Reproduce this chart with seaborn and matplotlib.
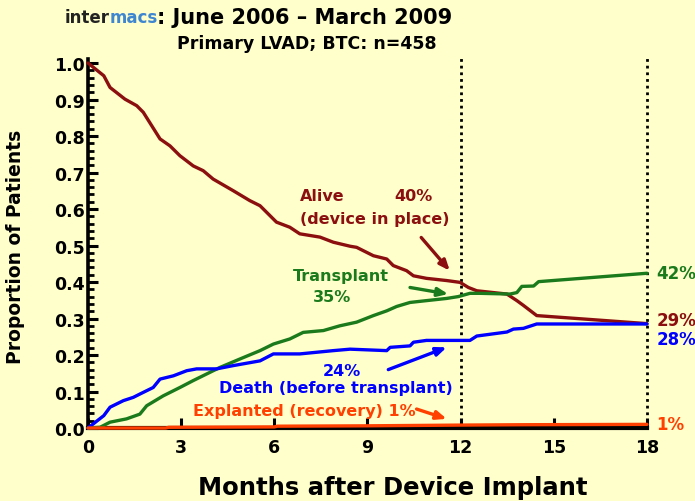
import pandas as pd
import matplotlib.pyplot as plt
import seaborn as sns
import numpy as np

# Competing outcomes after primary LVAD (BTC)
alive_t = [0, 0.51, 0.71, 1.19, 1.57, 1.78, 2.32, 2.64, 2.96, 3.39, 3.71, 4.03, 4.68, 5.21, 5.54,
           6.07, 6.5, 6.82, 7.47, 7.9, 8.44, 8.65, 9.19, 9.62, 9.83, 10.26, 10.48, 10.9, 11.55,
           11.98, 12.25, 12.52, 13.49, 13.81, 14.02, 14.45, 18]
alive_y = [1.0, 0.965, 0.933, 0.901, 0.883, 0.865, 0.792, 0.773, 0.746, 0.718, 0.705, 0.682, 0.650,
           0.623, 0.609, 0.564, 0.550, 0.532, 0.523, 0.509, 0.498, 0.495, 0.472, 0.463, 0.445,
           0.431, 0.417, 0.410, 0.404, 0.399, 0.385, 0.376, 0.367, 0.349, 0.336, 0.308, 0.286]

transplant_t = [0, 0.39, 0.71, 1.24, 1.67, 1.89, 2.42, 2.96, 3.39, 3.82, 4.25, 4.89, 5.54, 5.97,
                6.5, 6.93, 7.58, 8.11, 8.65, 9.19, 9.62, 9.94, 10.37, 10.9, 11.55, 11.92, 12.3,
                12.62, 13.59, 13.81, 13.97, 14.35, 14.51, 18]
transplant_y = [0, 0.002, 0.016, 0.025, 0.038, 0.061, 0.088, 0.111, 0.130, 0.148, 0.166, 0.189,
                0.212, 0.230, 0.244, 0.262, 0.267, 0.280, 0.290, 0.308, 0.321, 0.333, 0.344, 0.349,
                0.355, 0.360, 0.369, 0.369, 0.367, 0.371, 0.388, 0.389, 0.401, 0.424]

death_t = [0, 0.3, 0.51, 0.71, 1.14, 1.46, 1.67, 2.1, 2.32, 2.75, 3.18, 3.5, 4.14, 4.68, 5.54,
           5.97, 6.82, 7.9, 8.44, 9.62, 9.73, 10.37, 10.48, 10.9, 12.3, 12.52, 13.49, 13.7,
           14.02, 14.45, 18]
death_y = [0, 0.020, 0.034, 0.057, 0.075, 0.084, 0.093, 0.111, 0.134, 0.143, 0.157, 0.162, 0.162,
           0.171, 0.184, 0.203, 0.203, 0.212, 0.216, 0.212, 0.221, 0.225, 0.235, 0.240, 0.240,
           0.252, 0.263, 0.271, 0.273, 0.285, 0.285]

explant_t = [0, 2.5, 2.6, 6.0, 6.1, 9, 12, 14, 18]
explant_y = [0, 0, 0.002, 0.003, 0.005, 0.006, 0.008, 0.009, 0.010]

outcomes = ['Alive', 'Transplant', 'Death', 'Explanted']
end_labels = ['42%', '29%', '28%', '1%']
x_ticks = [0, 3, 6, 9, 12, 15, 18]
y_ticks = [0.0, 0.1, 0.2, 0.3, 0.4, 0.5, 0.6, 0.7, 0.8, 0.9, 1.0]

BG = '#FFFFCC'
colors = {'Alive': '#8B0F0F', 'Transplant': '#1B7A1B', 'Death': '#0000FF', 'Explanted': '#FF4000'}

df = pd.concat([
    pd.DataFrame({'month': alive_t, 'prop': alive_y, 'outcome': 'Alive'}),
    pd.DataFrame({'month': transplant_t, 'prop': transplant_y, 'outcome': 'Transplant'}),
    pd.DataFrame({'month': death_t, 'prop': death_y, 'outcome': 'Death'}),
    pd.DataFrame({'month': explant_t, 'prop': explant_y, 'outcome': 'Explanted'}),
], ignore_index=True)

sns.set_style('ticks')
plt.rcParams['font.family'] = ['DejaVu Sans']
plt.rcParams['font.weight'] = 'bold'
plt.rcParams['text.color'] = 'black'
plt.rcParams['axes.labelcolor'] = 'black'
plt.rcParams['xtick.color'] = 'black'
plt.rcParams['ytick.color'] = 'black'

fig = plt.figure(figsize=(6.95, 5.02), dpi=100, facecolor=BG)
ax = fig.add_axes([0.1266, 0.1454, 0.8043, 0.7271])
ax.set_facecolor(BG)

sns.lineplot(data=df, x='month', y='prop', hue='outcome', hue_order=outcomes,
             palette=colors, linewidth=2.4, legend=False, sort=False,
             estimator=None, ax=ax, clip_on=False, zorder=5)

# dotted reference lines at 12 and 18 months
ax.vlines([12, 18], 0, 1.02, colors='black', linestyles=(0, (1, 1.4)),
          linewidth=2, clip_on=False, zorder=3)

ax.set_xlim(0, 18)
ax.set_ylim(0, 1.0)
ax.set_xticks(x_ticks)
ax.set_yticks(y_ticks)
ax.set_yticklabels([f'{v:.1f}' for v in y_ticks])
ax.set_yticks(np.arange(0, 1.001, 0.02), minor=True)
ax.tick_params(axis='both', which='major', direction='in', width=2.2, length=7,
               labelsize=12.5, color='black', labelcolor='black')
ax.tick_params(axis='y', which='major', pad=2)
ax.tick_params(axis='x', which='major', pad=7)
ax.tick_params(axis='y', which='minor', direction='in', width=2, length=4, color='black')
for lab in ax.get_xticklabels() + ax.get_yticklabels():
    lab.set_fontweight('bold')

sns.despine(ax=ax)
ax.spines['left'].set_linewidth(2.6)
ax.spines['bottom'].set_linewidth(3)
ax.spines['left'].set_color('black')
ax.spines['bottom'].set_color('black')
ax.spines['left'].set_bounds(0, 1.01)
ax.spines['left'].set_zorder(2)
ax.spines['bottom'].set_zorder(2)

ax.set_xlabel('Months after Device Implant', fontsize=17.5, fontweight='bold')
ax.xaxis.set_label_coords(0.546, -0.13)
ax.set_ylabel('Proportion of Patients', fontsize=13.5, fontweight='bold', labelpad=21)

# in-plot labels
fs = 11.5
ax.text(6.83, 0.637, 'Alive', color=colors['Alive'], fontsize=fs, fontweight='bold', va='center')
ax.text(9.88, 0.637, '40%', color=colors['Alive'], fontsize=fs, fontweight='bold', va='center')
ax.text(6.83, 0.573, '(device in place)', color=colors['Alive'], fontsize=fs,
        fontweight='bold', va='center')
ax.text(8.13, 0.417, 'Transplant', color=colors['Transplant'], fontsize=fs,
        fontweight='bold', ha='center', va='center')
ax.text(7.86, 0.359, '35%', color=colors['Transplant'], fontsize=fs, fontweight='bold',
        ha='center', va='center')
ax.text(8.8, 0.157, '24%', color=colors['Death'], fontsize=fs, fontweight='bold',
        ha='right', va='center')
ax.text(7.97, 0.112, 'Death (before transplant)', color=colors['Death'], fontsize=fs,
        fontweight='bold', ha='center', va='center')
ax.text(6.98, 0.047, 'Explanted (recovery) 1%', color=colors['Explanted'], fontsize=fs,
        fontweight='bold', ha='center', va='center')

arrows = [((10.73, 0.522), (11.65, 0.431), 'Alive'),
          ((10.37, 0.385), (11.6, 0.367), 'Transplant'),
          ((9.67, 0.160), (11.55, 0.221), 'Death'),
          ((10.58, 0.052), (11.55, 0.025), 'Explanted')]
for start, end, key in arrows:
    ax.annotate('', xy=end, xytext=start,
                arrowprops=dict(arrowstyle='-|>,head_length=0.6,head_width=0.25',
                                color=colors[key], lw=2.4, shrinkA=0, shrinkB=0))

# end-of-follow-up percentages
end_y = [0.425, 0.297, 0.244, 0.011]
end_col = [colors['Transplant'], colors['Alive'], colors['Death'], colors['Explanted']]
for lab, yv, c in zip(end_labels, end_y, end_col):
    ax.text(18.31, yv, lab, color=c, fontsize=12, fontweight='bold', va='center', clip_on=False)

# title with logo-style wordmark
fig.text(0.158, 0.965, 'inter', color='#222222', fontsize=12, fontweight='bold',
         ha='right', va='center')
fig.text(0.158, 0.965, 'macs', color='#3F86D0', fontsize=12, fontweight='bold',
         ha='left', va='center')
fig.text(0.226, 0.965, ': June 2006 \u2013 March 2009', color='black', fontsize=15,
         fontweight='bold', ha='left', va='center')
fig.text(0.442, 0.912, 'Primary LVAD; BTC: n=458', color='black', fontsize=12.5,
         fontweight='bold', ha='center', va='center')

plt.savefig('out.png', dpi=100, facecolor=BG)
